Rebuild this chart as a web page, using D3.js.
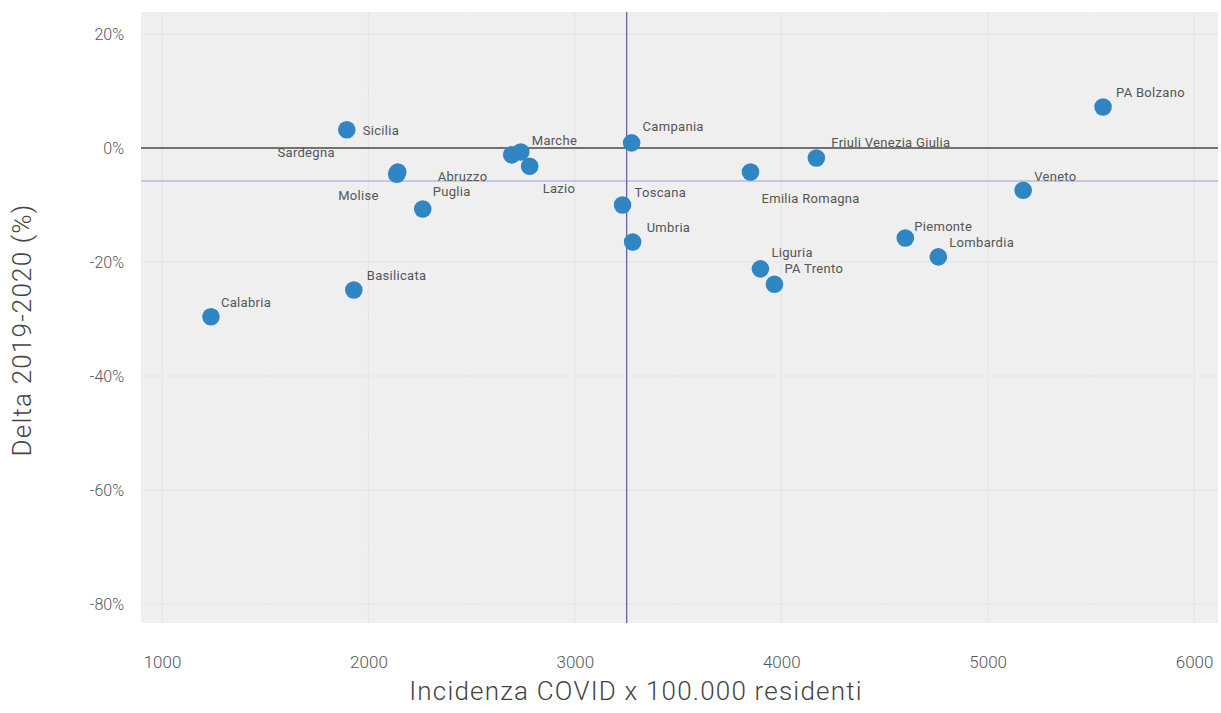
<!DOCTYPE html>
<html>
<head>
<meta charset="utf-8">
<script src="https://cdn.jsdelivr.net/npm/d3@7"></script>
<style>
  html, body { margin: 0; padding: 0; background: #ffffff; }
  svg { display: block; }
</style>
</head>
<body>
<svg id="chart" width="1221" height="713"></svg>
<script>
// ---- data ----
const regions = ["Calabria","Basilicata","Sicilia","Sardegna","Molise","Puglia","Abruzzo","Marche","Lazio",
  "Campania","Toscana","Umbria","Emilia Romagna","Friuli Venezia Giulia","Liguria","PA Trento",
  "Piemonte","Lombardia","Veneto","PA Bolzano"];
const incidence = [1237,1929,1895,2142,2137,2263,2694,2738,2781,3275,3231,3280,3851,4170,3899,3967,4601,4761,5172,5559];
const delta = [-29.6,-24.9,3.2,-4.2,-4.6,-10.7,-1.2,-0.7,-3.2,0.9,-10.0,-16.5,-4.2,-1.75,-21.2,-23.9,-15.8,-19.1,-7.4,7.2];
const xTicks = [1000,2000,3000,4000,5000,6000];
const yTicks = [20,0,-20,-40,-60,-80];
const refIncidence = 3251;   // vertical reference line
const refDelta = -5.8;       // horizontal reference line
const xTitle = "Incidenza COVID x 100.000 residenti";
const yTitle = "Delta 2019-2020 (%)";

// label placement (offsets from point, in px) and anchor
const labelPlacement = {
  "Calabria": [10,-10,"start"], "Basilicata": [13,-10,"start"], "Sicilia": [16,5,"start"],
  "Sardegna": [-63,-15,"end"], "Molise": [-18,26,"end"], "Puglia": [10,-13,"start"],
  "Abruzzo": [-74,26,"start"], "Marche": [11,-7,"start"], "Lazio": [13,27,"start"],
  "Campania": [11,-12,"start"], "Toscana": [12,-8,"start"], "Umbria": [14,-10,"start"],
  "Emilia Romagna": [11,31,"start"], "Friuli Venezia Giulia": [15,-11,"start"], "Liguria": [11,-12,"start"],
  "PA Trento": [10,-11,"start"], "Piemonte": [9,-7,"start"], "Lombardia": [11,-10,"start"],
  "Veneto": [11,-9,"start"], "PA Bolzano": [13,-10,"start"]
};

const panel = {left: 141, right: 1218, top: 12, bottom: 623};
const svg = d3.select("#chart");

const x = d3.scaleLinear().domain([898, 6116]).range([panel.left, panel.right]);
const y = d3.scaleLinear().domain([23.86, -83.33]).range([panel.top, panel.bottom]);

// panel background
svg.append("rect").attr("x", panel.left).attr("y", panel.top)
  .attr("width", panel.right - panel.left).attr("height", panel.bottom - panel.top)
  .attr("fill", "#efefef");

const g = svg.append("g");
// minor gridlines
const xMinor = d3.range(1500, 6001, 1000);
const yMinor = [10,-10,-30,-50,-70];
g.selectAll(".xminor").data(xMinor).join("line")
  .attr("x1", d => x(d)).attr("x2", d => x(d)).attr("y1", panel.top).attr("y2", panel.bottom)
  .attr("stroke", "#f5f5f5").attr("stroke-width", 0.6);
g.selectAll(".yminor").data(yMinor).join("line")
  .attr("y1", d => y(d)).attr("y2", d => y(d)).attr("x1", panel.left).attr("x2", panel.right)
  .attr("stroke", "#f5f5f5").attr("stroke-width", 0.6);
// major gridlines
g.selectAll(".xgrid").data(xTicks).join("line")
  .attr("x1", d => x(d)).attr("x2", d => x(d)).attr("y1", panel.top).attr("y2", panel.bottom)
  .attr("stroke", "#e5e5e5").attr("stroke-width", 1.1);
g.selectAll(".ygrid").data(yTicks).join("line")
  .attr("y1", d => y(d)).attr("y2", d => y(d)).attr("x1", panel.left).attr("x2", panel.right)
  .attr("stroke", "#e5e5e5").attr("stroke-width", 1.1);

// reference lines
svg.append("line").attr("x1", panel.left).attr("x2", panel.right)
  .attr("y1", y(0)).attr("y2", y(0)).attr("stroke", "#4a4a4a").attr("stroke-width", 1.5);
svg.append("line").attr("x1", panel.left).attr("x2", panel.right)
  .attr("y1", y(refDelta)).attr("y2", y(refDelta)).attr("stroke", "#b9b9df").attr("stroke-width", 1.5);
svg.append("line").attr("x1", x(refIncidence)).attr("x2", x(refIncidence))
  .attr("y1", panel.top).attr("y2", panel.bottom).attr("stroke", "#6464aa").attr("stroke-width", 1.3);

// axes
const font = "Roboto, 'Noto Sans', sans-serif";
const xAxis = d3.axisBottom(x).tickValues(xTicks).tickFormat(d3.format("d")).tickSize(0).tickPadding(0);
const xa = svg.append("g").attr("transform", `translate(0,${panel.bottom})`).call(xAxis);
xa.select(".domain").remove();
xa.selectAll("text").attr("y", 45).attr("dy", 0).attr("font-family", font).attr("font-size", 17)
  .attr("font-weight", 300).attr("fill", "#555");

const yAxis = d3.axisLeft(y).tickValues(yTicks).tickFormat(d => d + "%").tickSize(0).tickPadding(17);
const ya = svg.append("g").attr("transform", `translate(${panel.left},0)`).call(yAxis);
ya.select(".domain").remove();
ya.selectAll("text").attr("font-family", font).attr("font-size", 16)
  .attr("font-weight", 300).attr("fill", "#555");

// axis titles
svg.append("text").attr("x", 636).attr("y", 700).attr("text-anchor", "middle")
  .attr("font-family", font).attr("font-size", 26).attr("font-weight", 300).attr("fill", "#444")
  .attr("letter-spacing", 1.2)
  .text(xTitle);
svg.append("text").attr("transform", "translate(31,330) rotate(-90)").attr("text-anchor", "middle")
  .attr("font-family", font).attr("font-size", 26).attr("font-weight", 300).attr("fill", "#444")
  .attr("letter-spacing", 1.2)
  .text(yTitle);

// data
const data = regions.map((r, i) => ({name: r, inc: incidence[i], d: delta[i]}));

svg.append("g").selectAll("circle").data(data).join("circle")
  .attr("cx", d => x(d.inc)).attr("cy", d => y(d.d)).attr("r", 8.8)
  .attr("fill", "#2f86c3");

svg.append("g").selectAll("text").data(data).join("text")
  .attr("x", d => x(d.inc) + labelPlacement[d.name][0])
  .attr("y", d => y(d.d) + labelPlacement[d.name][1])
  .attr("text-anchor", d => labelPlacement[d.name][2])
  .attr("font-family", font).attr("font-size", 13).attr("letter-spacing", 0.3).attr("fill", "#555")
  .text(d => d.name);
</script>
</body>
</html>
